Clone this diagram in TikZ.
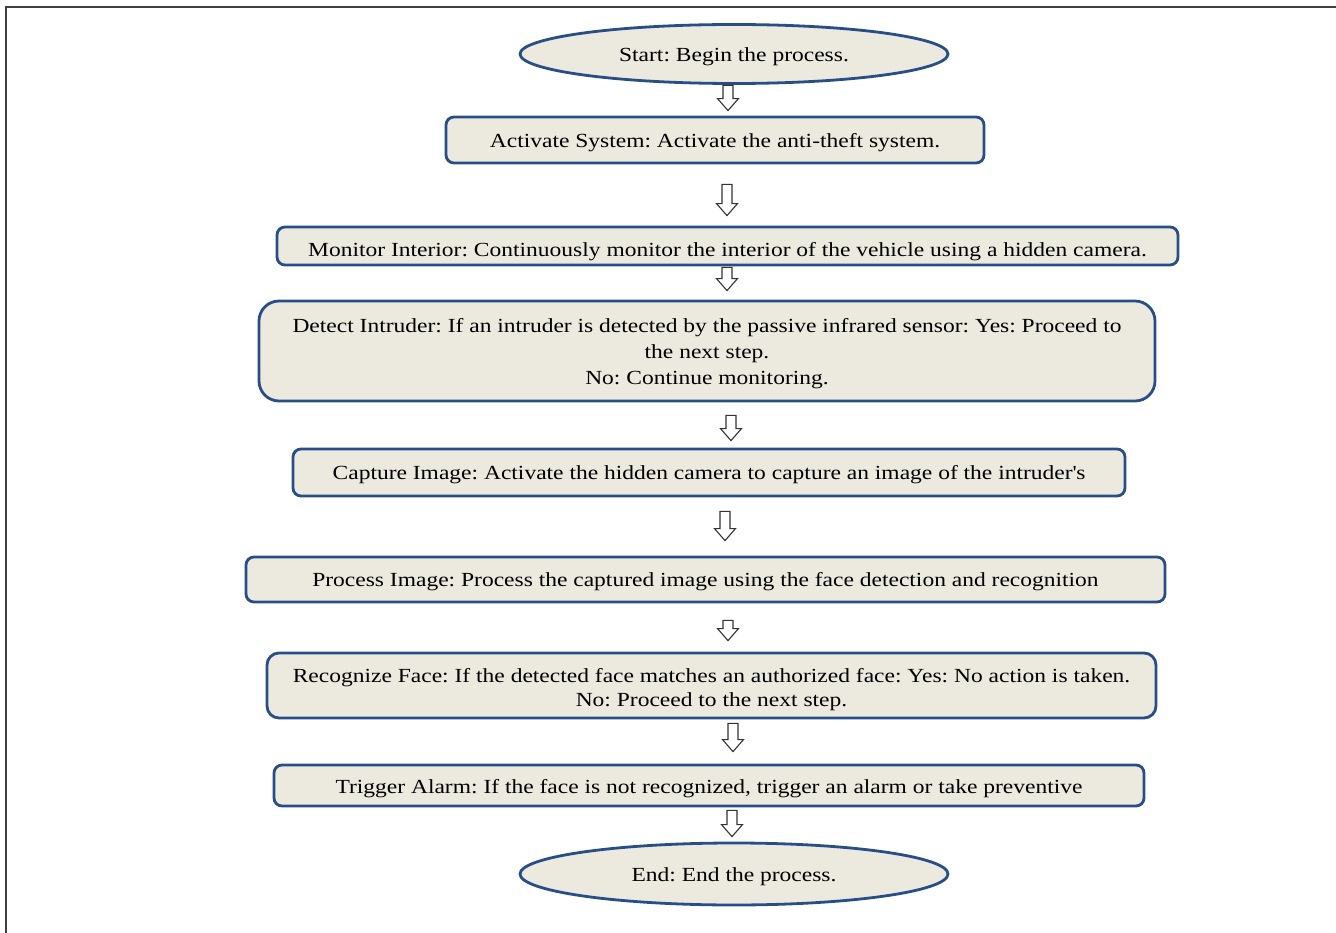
\documentclass[tikz,border=0pt]{standalone}
\usepackage{fontspec}
\setmainfont{Liberation Serif}[FakeStretch=1.175]
\usetikzlibrary{calc,shapes.geometric}
\definecolor{boxfill}{RGB}{236,233,223}
\definecolor{boxline}{RGB}{40,78,135}
\newcommand{\boxtext}[2][3pt]{\raisebox{-#1}[\height][\depth]{\begin{tabular}{@{}c@{}}#2\end{tabular}}}
\tikzset{
  stepbox/.style={draw=boxline, line width=2.8pt, fill=boxfill, rounded corners=8pt,
    align=center, inner sep=0pt, font=\fontsize{20}{26}\selectfont\frenchspacing},
  termbox/.style={ellipse, draw=boxline, line width=2.8pt, fill=boxfill,
    align=center, inner sep=0pt, font=\fontsize{20}{26}\selectfont\frenchspacing},
  harrow/.style={draw=black!80, line width=1.1pt, fill=white,
    to path={let \p1=(\tikztostart), \p2=(\tikztotarget) in
      (\x1-5pt,\y1) -- (\x1+5pt,\y1) -- (\x1+5pt,\y2+12pt) -- (\x1+10.5pt,\y2+12pt)
      -- (\x1,\y2) -- (\x1-10.5pt,\y2+12pt) -- (\x1-5pt,\y2+12pt) -- cycle}}
}
\begin{document}
\begin{tikzpicture}[x=1pt,y=-1pt]
\useasboundingbox (0,0) rectangle (1336,933);
\draw[line width=1.3pt, black!75] (6,933) -- (6,7) -- (1336,7);

\node[termbox, minimum width=428pt, minimum height=59pt] (start) at (734,54) {\boxtext[2pt]{Start: Begin the process.}};
\node[stepbox, minimum width=538pt, minimum height=46pt] (act) at (715,140) {\boxtext[2pt]{Activate System: Activate the anti-theft system.}};
\node[stepbox, minimum width=901pt, minimum height=38pt] (mon) at (727.5,246) {\boxtext[5pt]{Monitor Interior: Continuously monitor the interior of the vehicle using a hidden camera.}};
\node[stepbox, rounded corners=20pt, minimum width=896pt, minimum height=100pt] (det) at (707,351) {\boxtext[2.5pt]{Detect Intruder: If an intruder is detected by the passive infrared sensor: Yes: Proceed to\\ the next step.\\ No: Continue monitoring.}};
\node[stepbox, minimum width=832pt, minimum height=47pt] (cap) at (709,472.5) {\boxtext[1.5pt]{Capture Image: Activate the hidden camera to capture an image of the intruder\textquotesingle s}};
\node[stepbox, minimum width=919pt, minimum height=45pt] (proc) at (705.5,579.5) {\boxtext[2pt]{Process Image: Process the captured image using the face detection and recognition}};
\node[stepbox, rounded corners=12pt, minimum width=889pt, minimum height=65pt, font=\fontsize{20}{24}\selectfont\frenchspacing] (rec) at (711.5,685.5) {\boxtext[4pt]{Recognize Face: If the detected face matches an authorized face: Yes: No action is taken.\\ No: Proceed to the next step.}};
\node[stepbox, minimum width=870pt, minimum height=41pt] (trig) at (709,785.5) {\boxtext[3pt]{Trigger Alarm: If the face is not recognized, trigger an alarm or take preventive}};
\node[termbox, minimum width=428pt, minimum height=62pt] (end) at (734,874) {\boxtext[2pt]{End: End the process.}};

\draw[harrow] ([xshift=-6pt,yshift=-0.5pt]start.south) to ([yshift=5pt]act.north);
\draw[harrow] ([xshift=12pt,yshift=-20pt]act.south) to ([yshift=10pt]mon.north);
\draw[harrow] ([xshift=-0.5pt,yshift=-1pt]mon.south) to ([yshift=9pt]det.north);
\draw[harrow] ([xshift=24pt,yshift=-13pt]det.south) to ([yshift=7pt]cap.north);
\draw[harrow] ([xshift=16pt,yshift=-14pt]cap.south) to ([yshift=15pt]proc.north);
\draw[harrow] ([xshift=22.5pt,yshift=-17pt]proc.south) to ([yshift=11pt]rec.north);
\draw[harrow] ([xshift=21.5pt,yshift=-4pt]rec.south) to ([yshift=12pt]trig.north);
\draw[harrow] ([xshift=23pt,yshift=-3pt]trig.south) to ([yshift=5pt]end.north);
\end{tikzpicture}
\end{document}
